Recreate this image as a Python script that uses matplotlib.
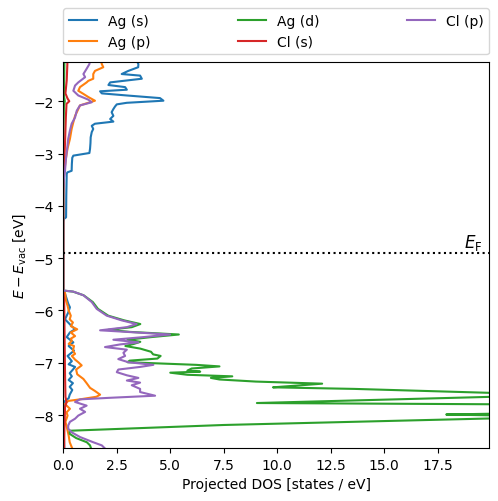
import matplotlib
matplotlib.use("Agg")
import matplotlib.pyplot as plt

# ---- data ----
E_F = -4.905

E_ag_s = [-1.20, -1.29, -1.35, -1.42, -1.48, -1.51, -1.57, -1.64, -1.69, -1.73, -1.78, -1.81,
          -1.85, -1.89, -1.94, -1.99, -2.03, -2.06, -2.10, -2.15, -2.21, -2.28, -2.34, -2.39,
          -2.43, -2.47, -2.53, -2.59, -2.69, -2.80, -2.91, -2.99, -3.04, -3.08, -3.20, -3.33,
          -3.36, -3.39, -3.80, -4.22, -4.25, -4.30, -5.60,
          -5.62, -5.68, -5.78, -5.87, -5.94, -6.04, -6.17, -6.24, -6.30, -6.36, -6.42, -6.51,
          -6.61, -6.68, -6.77, -6.87, -6.97, -7.03, -7.08, -7.13, -7.20, -7.26, -7.33, -7.39,
          -7.46, -7.52, -7.61, -7.68, -7.72, -7.77, -8.00, -8.30, -8.70]
DOS_ag_s = [3.40, 3.51, 3.50, 3.04, 2.73, 3.59, 3.67, 2.19, 2.11, 2.89, 2.97, 1.72,
            1.80, 2.97, 4.52, 4.68, 2.97, 2.50, 2.42, 2.34, 2.26, 2.34, 2.19, 2.34,
            1.48, 1.33, 1.40, 1.33, 1.28, 1.27, 1.25, 1.22, 0.47, 0.42, 0.40, 0.39,
            0.19, 0.16, 0.14, 0.13, 0.03, 0.00, 0.00,
            0.00, 0.08, 0.16, 0.23, 0.31, 0.23, 0.08, 0.25, 0.39, 0.55, 0.31, 0.16,
            0.47, 0.25, 0.50, 0.20, 0.40, 0.25, 0.55, 0.45, 0.30, 0.40, 0.25, 0.45,
            0.30, 0.42, 0.30, 0.25, 0.10, 0.02, 0.03, 0.02, 0.05]

E_ag_p = [-1.20, -1.29, -1.35, -1.42, -1.48, -1.57, -1.61, -1.64, -1.73, -1.80, -1.86, -1.92,
          -1.99, -2.03, -2.08, -2.15, -2.28, -2.40, -2.53, -2.72, -2.90, -3.10, -3.30, -3.50,
          -3.70, -5.62,
          -5.66, -5.80, -5.91, -6.00, -6.10, -6.17, -6.23, -6.30, -6.36, -6.42, -6.49, -6.54,
          -6.58, -6.64, -6.68, -6.77, -6.83, -6.87, -6.94, -6.99, -7.05, -7.13, -7.22, -7.31,
          -7.39, -7.48, -7.54, -7.61, -7.65, -7.70, -7.73, -7.79, -7.88, -7.95, -8.01, -8.13,
          -8.26, -8.39, -8.52, -8.70]
DOS_ag_p = [1.75, 1.80, 1.87, 1.48, 1.40, 1.40, 1.17, 1.09, 0.78, 0.70, 0.94, 1.17,
            1.48, 1.17, 0.78, 0.70, 0.55, 0.47, 0.39, 0.31, 0.20, 0.12, 0.06, 0.02,
            0.00, 0.00,
            0.08, 0.12, 0.20, 0.25, 0.35, 0.30, 0.45, 0.35, 0.65, 0.35, 0.55, 0.35,
            0.40, 0.25, 0.50, 0.45, 0.55, 0.40, 0.55, 0.70, 0.86, 0.60, 0.65, 0.94,
            1.09, 1.25, 1.48, 1.72, 1.55, 0.78, 0.23, 0.08, 0.31, 0.15, 0.20, 0.10,
            0.18, 0.25, 0.30, 0.48]

E_ag_d = [-1.20, -1.29, -1.90, -2.00, -2.10, -2.50, -3.00, -5.60,
          -5.62, -5.64, -5.71, -5.84, -5.97, -6.10, -6.19, -6.26, -6.32, -6.37, -6.41, -6.46,
          -6.51, -6.56, -6.60, -6.64, -6.68, -6.73, -6.79, -6.84, -6.87, -6.92, -6.96, -6.99,
          -7.04, -7.07, -7.11, -7.15, -7.17, -7.19, -7.23, -7.26, -7.29, -7.32, -7.36, -7.40,
          -7.44, -7.47, -7.49, -7.50, -7.60, -7.63, -7.77, -7.80, -7.90, -7.96, -7.99, -8.02,
          -8.05, -8.19, -8.30, -8.36, -8.44, -8.52, -8.58, -8.70]
DOS_ag_d = [0.05, 0.05, 0.03, 0.07, 0.03, 0.01, 0.00, 0.00,
            0.00, 0.45, 0.95, 1.38, 1.62, 2.10, 2.85, 3.60, 3.20, 2.10, 3.10, 5.40,
            4.10, 3.00, 3.60, 3.30, 2.90, 3.60, 4.10, 4.20, 4.55, 4.40, 3.10, 3.00,
            6.20, 7.30, 6.00, 5.80, 6.40, 5.00, 5.80, 7.90, 6.90, 7.30, 9.00, 12.10,
            10.80, 9.80, 12.30, 13.60, 22.00, 22.00, 9.05, 23.00, 24.00, 22.00, 17.90, 22.00,
            21.50, 7.50, 0.30, 0.30, 0.60, 1.10, 1.25, 1.35]

E_cl_s = [-1.20, -1.29, -1.60, -1.85, -1.95, -2.00, -2.05, -2.30, -2.80, -3.20, -3.60, -3.80,
          -5.60, -5.80, -6.50, -7.20, -7.65, -7.75, -7.85, -8.30, -8.70]
DOS_cl_s = [0.19, 0.19, 0.16, 0.10, 0.20, 0.28, 0.15, 0.12, 0.08, 0.04, 0.01, 0.00,
            0.00, 0.04, 0.06, 0.08, 0.10, 0.15, 0.08, 0.05, 0.04]

E_cl_p = [-1.20, -1.29, -1.38, -1.48, -1.54, -1.64, -1.70, -1.80, -1.89, -1.97, -2.02, -2.08,
          -2.18, -2.31, -2.43, -2.56, -2.72, -2.87, -3.08, -3.33, -3.50, -3.70, -5.60,
          -5.62, -5.64, -5.71, -5.84, -5.97, -6.10, -6.19, -6.26, -6.32, -6.38, -6.41, -6.46,
          -6.51, -6.56, -6.61, -6.65, -6.70, -6.75, -6.81, -6.87, -6.93, -6.99, -7.04, -7.08,
          -7.13, -7.18, -7.24, -7.29, -7.34, -7.38, -7.43, -7.50, -7.56, -7.63, -7.67, -7.70,
          -7.75, -7.82, -7.88, -7.94, -8.01, -8.07, -8.13, -8.20, -8.26, -8.33, -8.42, -8.52,
          -8.58, -8.70]
DOS_cl_p = [1.25, 1.22, 1.09, 0.94, 1.02, 0.70, 0.55, 0.47, 0.70, 1.17, 1.33, 0.78,
            0.63, 0.55, 0.39, 0.31, 0.23, 0.19, 0.13, 0.08, 0.02, 0.00, 0.00,
            0.03, 0.47, 0.94, 1.33, 1.56, 2.03, 2.73, 3.43, 2.97, 1.72, 2.97, 4.99,
            3.74, 2.34, 3.51, 2.65, 1.95, 2.97, 2.81, 2.89, 2.57, 3.04, 4.21, 3.59,
            2.57, 2.50, 2.97, 3.51, 2.97, 3.59, 3.20, 3.59, 3.59, 4.29, 2.19, 0.78,
            0.55, 1.09, 0.78, 1.02, 0.70, 0.55, 0.31, 0.23, 0.23, 0.39, 0.78, 1.40,
            1.80, 2.10]

series = [
    ("Ag (s)", E_ag_s, DOS_ag_s),
    ("Ag (p)", E_ag_p, DOS_ag_p),
    ("Ag (d)", E_ag_d, DOS_ag_d),
    ("Cl (s)", E_cl_s, DOS_cl_s),
    ("Cl (p)", E_cl_p, DOS_cl_p),
]

# ---- figure ----
fig = plt.figure(figsize=(4.98, 5.02), dpi=100)
ax = fig.add_axes([63.3 / 498, (502 - 449) / 502, (489 - 63.3) / 498, (449 - 63) / 502])

for label, E, dos in series:
    ax.plot(dos, E, label=label, lw=1.5)

ax.axhline(E_F, color="k", ls=":", lw=1.5)
ax.text(19.6, E_F + 0.02, r"$E_{\rm F}$", ha="right", va="bottom", fontsize=12)

ax.set_xlim(0, 19.9)
ax.set_ylim(-8.63, -1.25)
ax.set_xlabel("Projected DOS [states / eV]")
ax.set_ylabel(r"$E - E_{\rm vac}$ [eV]")

ax.legend(loc="lower left", bbox_to_anchor=(0, 1.02, 1, 0.2), mode="expand",
          ncol=3, borderaxespad=0)

fig.savefig("out.png", dpi=100)
